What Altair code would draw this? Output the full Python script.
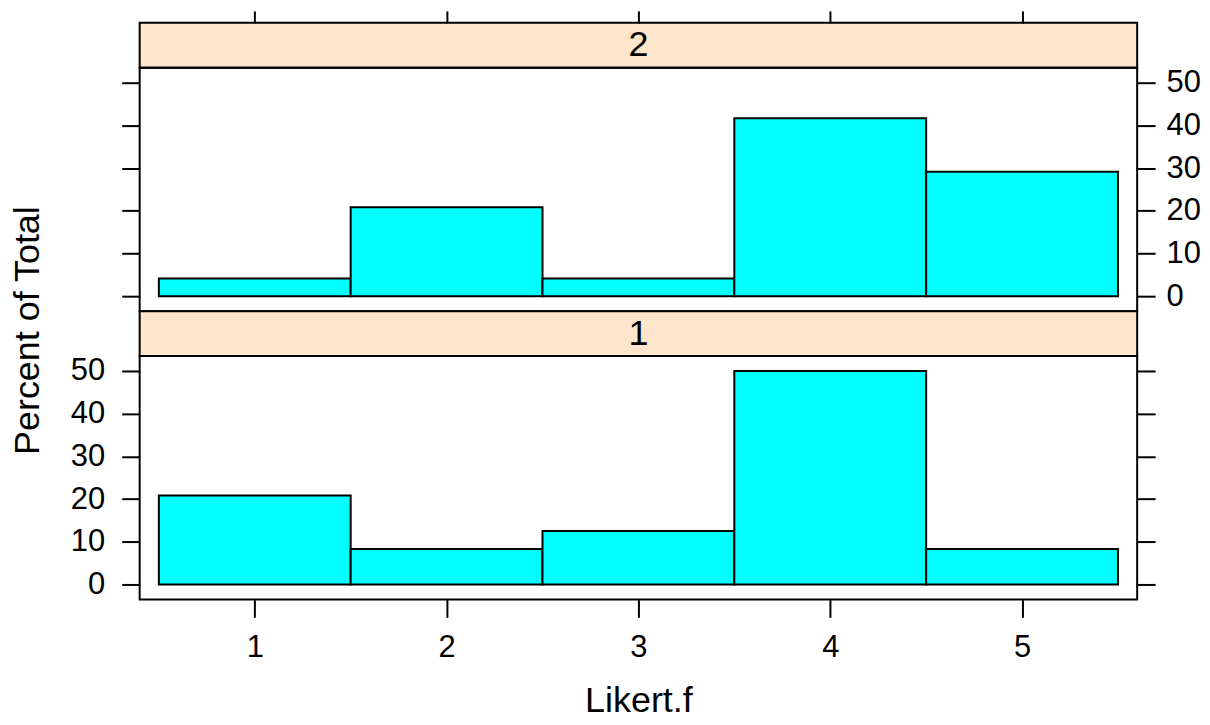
import altair as alt
import pandas as pd

# ---- data ----
levels = [1, 2, 3, 4, 5]
pct_panel1 = [20.83, 8.33, 12.50, 50.00, 8.33]
pct_panel2 = [4.17, 20.83, 4.17, 41.67, 29.17]
strip_labels = ["2", "1"]
x_ticks = [1, 2, 3, 4, 5]
y_ticks = [0, 10, 20, 30, 40, 50]

FONT = "Liberation Sans"
W = 1000
PH = 244
SH = 45
STRIP_FILL = "#ffe5cc"
BAR_FILL = "#00ffff"

xscale = alt.Scale(domain=[0.4, 5.6], nice=False, zero=False)
yscale = alt.Scale(domain=[-3.5, 53.5], nice=False, zero=False)


def strip(label, top_axis):
    df = pd.DataFrame({"label": [label], "xc": [3.0]})
    if top_axis:
        xax = alt.Axis(orient="top", values=x_ticks, labels=False, tickSize=12,
                       domain=False, grid=False, title=None)
    else:
        xax = None
    return alt.Chart(df).mark_text(
        font=FONT, fontSize=36, baseline="middle", align="center", color="black"
    ).encode(
        x=alt.X("xc:Q", scale=xscale, axis=xax),
        y=alt.value(SH / 2),
        text="label:N",
    ).properties(
        width=W, height=SH,
        view=alt.ViewBackground(fill=STRIP_FILL, stroke="black", strokeWidth=2),
    )


def panel(values, bottom):
    df = pd.DataFrame({"level": levels, "pct": values})
    base = alt.Chart(df).transform_calculate(
        x1="datum.level - 0.5", x2="datum.level + 0.5", zero="0"
    )
    if bottom:
        xax = alt.Axis(orient="bottom", values=x_ticks, format="d", tickSize=18,
                       labelPadding=15, title="Likert.f", titleFontSize=36,
                       titleFont=FONT, titleFontWeight="normal", titleColor="black",
                       titleBaseline="alphabetic", titleAlign="center",
                       titleX=W / 2, titleY=112, domain=False, grid=False)
        left = alt.Axis(orient="left", values=y_ticks, format="d", tickSize=18,
                        labelPadding=17, title="Percent of Total", titleFontSize=36,
                        titleFont=FONT, titleFontWeight="normal", titleColor="black",
                        titleAngle=270, titleBaseline="alphabetic", titleAlign="center",
                        titleX=-101, titleY=-26, domain=False, grid=False)
        right = alt.Axis(orient="right", values=y_ticks, labels=False, tickSize=18,
                         title=None, domain=False, grid=False)
    else:
        xax = None
        left = alt.Axis(orient="left", values=y_ticks, labels=False, tickSize=18,
                        title=None, domain=False, grid=False)
        right = alt.Axis(orient="right", values=y_ticks, format="d", tickSize=18,
                         labelPadding=11, title=None, domain=False, grid=False)

    bars = base.mark_rect(fill=BAR_FILL, stroke="black", strokeWidth=2).encode(
        x=alt.X("x1:Q", scale=xscale, axis=xax),
        x2="x2:Q",
        y=alt.Y("pct:Q", scale=yscale, axis=left),
        y2="zero:Q",
    )
    ghost = base.mark_rect(opacity=0).encode(
        x=alt.X("x1:Q", scale=xscale, axis=xax),
        x2="x2:Q",
        y=alt.Y("pct:Q", scale=yscale, axis=right),
        y2="zero:Q",
    )
    return alt.layer(bars, ghost).resolve_axis(y="independent").properties(
        width=W, height=PH
    )


chart = alt.vconcat(
    strip(strip_labels[0], True),
    panel(pct_panel2, False),
    strip(strip_labels[1], False),
    panel(pct_panel1, True),
    spacing=0,
    bounds="flush",
).properties(
    padding=0
).configure_view(
    stroke="black", strokeWidth=2
).configure_axis(
    labelFont=FONT, labelFontSize=31, labelColor="black",
    tickColor="black", tickWidth=2, labelOverlap=False,
)

chart.save("out.html", embed_options={"renderer": "svg", "actions": False})
